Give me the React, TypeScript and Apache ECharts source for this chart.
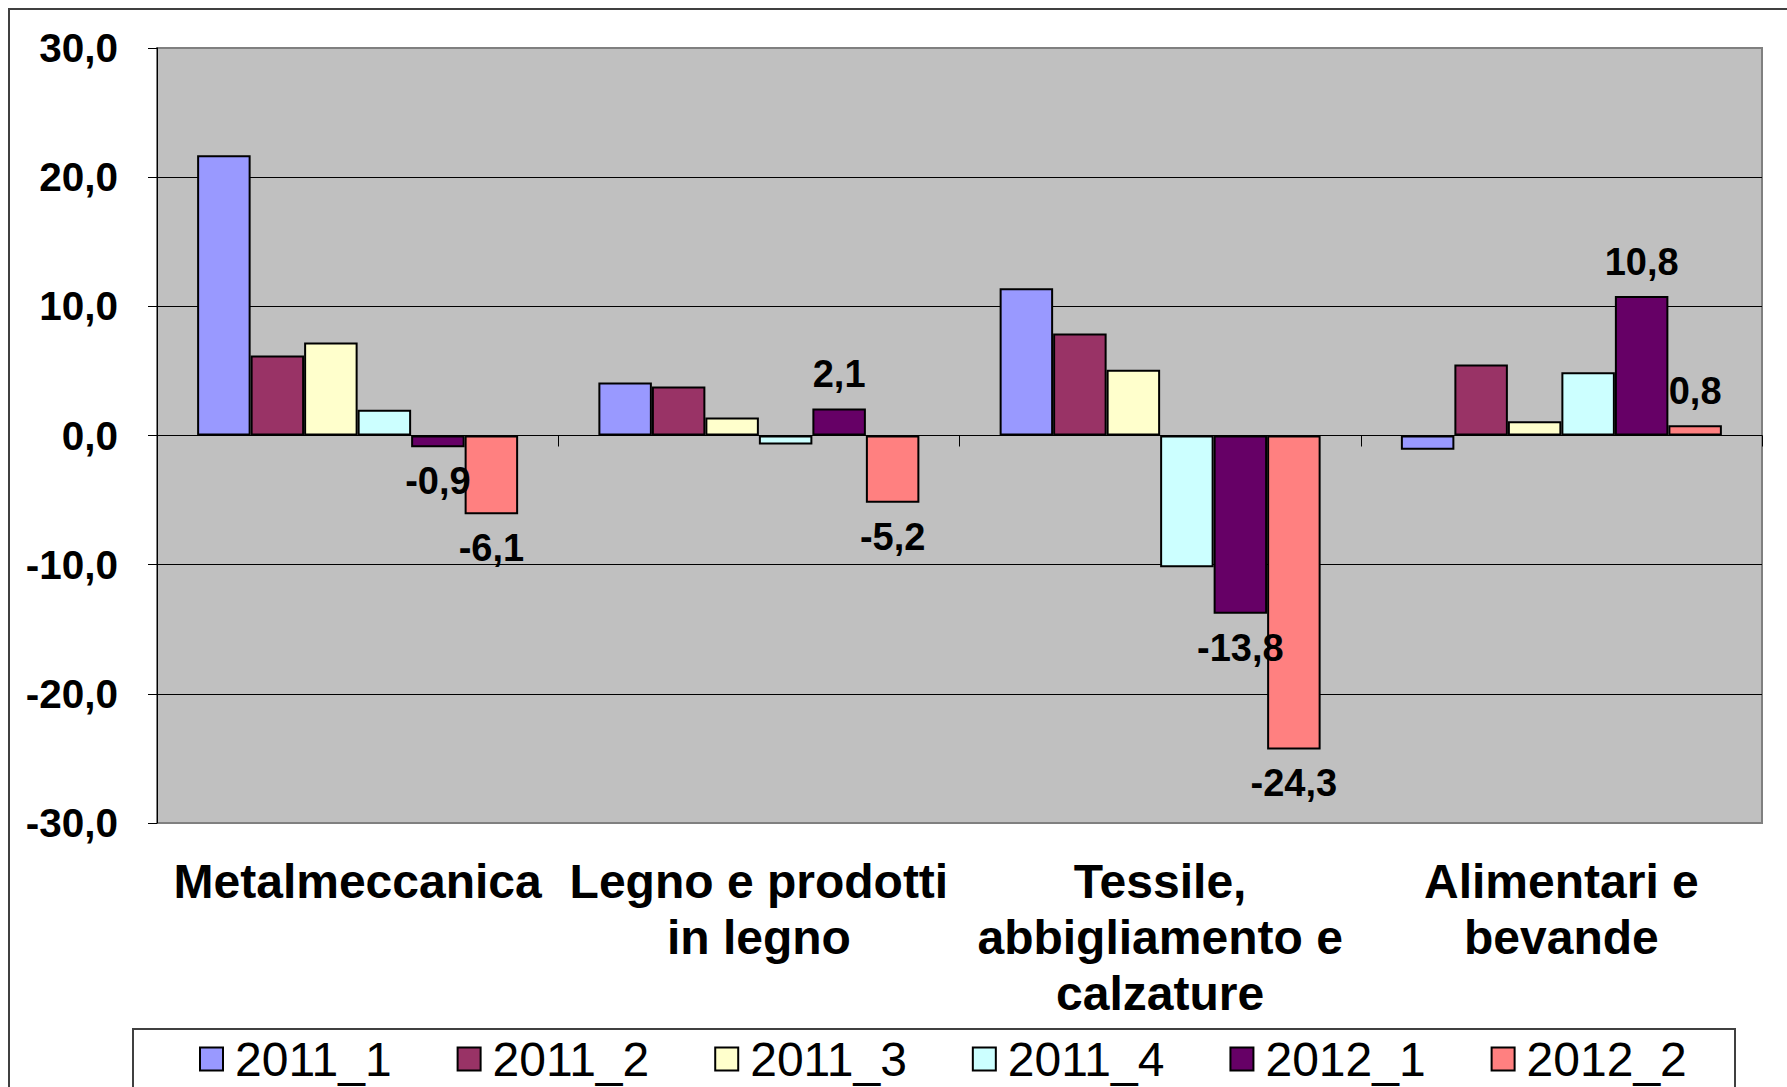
import React, { useEffect, useRef } from "react";
import * as echarts from "echarts";

const categories = [
  "Metalmeccanica",
  "Legno e prodotti\nin legno",
  "Tessile,\nabbigliamento e\ncalzature",
  "Alimentari e\nbevande",
];
const seriesNames = ["2011_1", "2011_2", "2011_3", "2011_4", "2012_1", "2012_2"];
const s2011_1 = [21.7, 4.1, 11.4, -1.1];
const s2011_2 = [6.2, 3.8, 7.9, 5.5];
const s2011_3 = [7.2, 1.4, 5.1, 1.1];
const s2011_4 = [2.0, -0.7, -10.2, 4.9];
const s2012_1 = [-0.9, 2.1, -13.8, 10.8];
const s2012_2 = [-6.1, -5.2, -24.3, 0.8];
const seriesValues = [s2011_1, s2011_2, s2011_3, s2011_4, s2012_1, s2012_2];
const seriesColors = ["#9999FF", "#993366", "#FFFFCC", "#CCFFFF", "#660066", "#FF8080"];
const labelledSeries = [false, false, false, false, true, true];
const yTicks = [-30, -20, -10, 0, 10, 20, 30];

const FONT = "'Liberation Sans', Arial, sans-serif";

export default function App() {
  const ref = useRef<HTMLDivElement>(null);
  useEffect(() => {
    if (!ref.current) return;
    const chart = echarts.init(ref.current, null, { renderer: "svg" });
    const fmt = (v: number) => v.toFixed(1).replace(".", ",");
    const series = seriesNames.map((name, i) => ({
      name,
      type: "bar",
      xAxisIndex: 0,
      yAxisIndex: 0,
      barGap: "0%",
      barCategoryGap: "20%",
      itemStyle: { color: seriesColors[i], borderColor: "#000", borderWidth: 2 },
      data: seriesValues[i].map((v) => ({
        value: v,
        label: labelledSeries[i]
          ? {
              show: true,
              position: v >= 0 ? "top" : "bottom",
              distance: 15,
              formatter: (p: any) => fmt(p.value),
              color: "#000",
              fontFamily: FONT,
              fontWeight: "bold",
              fontSize: 38,
            }
          : { show: false },
      })),
    }));
    chart.setOption({
      animation: false,
      backgroundColor: "#fff",
      textStyle: { fontFamily: FONT },
      grid: {
        left: 157,
        top: 48,
        width: 1605,
        height: 775,
        show: true,
        backgroundColor: "#C0C0C0",
        borderColor: "#808080",
        borderWidth: 2,
        containLabel: false,
      },
      xAxis: [
        {
          type: "category",
          data: categories,
          position: "bottom",
          axisLine: { onZero: true, lineStyle: { color: "#000", width: 1 } },
          axisTick: { show: true, inside: false, length: 11, lineStyle: { color: "#000", width: 1 } },
          axisLabel: { show: false },
          splitLine: { show: false },
        },
        {
          type: "category",
          data: categories,
          position: "bottom",
          axisLine: { show: false, onZero: false },
          axisTick: { show: false },
          axisLabel: {
            show: true,
            interval: 0,
            margin: 30,
            color: "#000",
            fontFamily: FONT,
            fontWeight: "bold",
            fontSize: 48,
            lineHeight: 56,
          },
        },
      ],
      yAxis: {
        type: "value",
        min: -30,
        max: 30,
        interval: 10,
        axisLine: { show: true, lineStyle: { color: "#000", width: 1 } },
        axisTick: { show: true, inside: false, length: 9, lineStyle: { color: "#000" } },
        axisLabel: {
          margin: 39,
          color: "#000",
          fontFamily: FONT,
          fontWeight: "bold",
          fontSize: 40.5,
          formatter: (v: number) => (yTicks.includes(v) ? fmt(v) : ""),
        },
        splitLine: {
          show: true,
          lineStyle: {
            color: ["#808080", "#000", "#000", "#000", "#000", "#000", "#808080"],
            width: 1,
          },
        },
      },
      legend: {
        show: true,
        left: 199,
        top: 1035,
        orient: "horizontal",
        padding: 0,
        itemGap: 65,
        itemWidth: 23,
        itemHeight: 23,
        icon: "rect",
        itemStyle: { borderColor: "#000", borderWidth: 2 },
        textStyle: {
          color: "#000",
          fontFamily: FONT,
          fontSize: 48,
          padding: [0, 0, 0, 7],
        },
        data: seriesNames,
      },
      graphic: [
        {
          type: "rect",
          shape: { x: 9, y: 9, width: 1800, height: 1100 },
          style: { fill: "none", stroke: "#404040", lineWidth: 2 },
          silent: true,
          z: 100,
        },
        {
          type: "rect",
          shape: { x: 133, y: 1029, width: 1602, height: 80 },
          style: { fill: "none", stroke: "#404040", lineWidth: 2 },
          silent: true,
          z: 100,
        },
      ],
      series,
    });
    return () => chart.dispose();
  }, []);
  return (
    <div
      ref={ref}
      style={{ position: "fixed", left: 0, top: 0, width: 1787, height: 1087 }}
    />
  );
}
